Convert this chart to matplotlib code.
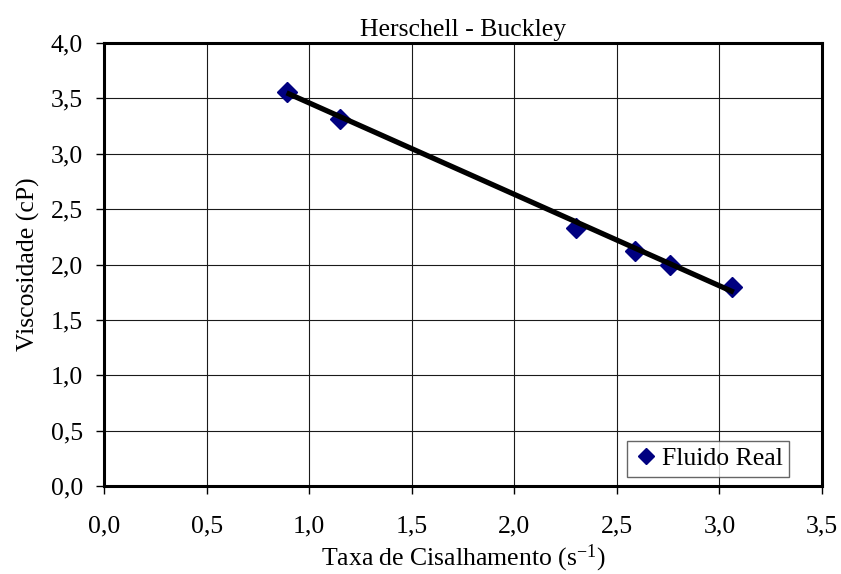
import numpy as np
import matplotlib.pyplot as plt
from matplotlib.ticker import FuncFormatter, MultipleLocator

# -----------------------------
# Data
# -----------------------------
taxa = [0.89, 1.15, 2.30, 2.59, 2.76, 3.06]
viscosidade = [3.56, 3.31, 2.33, 2.12, 2.00, 1.80]

# model line (Herschell - Buckley fit)
modelo_x = [0.89, 3.07]
modelo_y = [3.55, 1.75]

plt.rcParams['font.family'] = ['Liberation Serif', 'DejaVu Serif']
plt.rcParams['mathtext.fontset'] = 'custom'
plt.rcParams['mathtext.rm'] = 'Liberation Serif'
plt.rcParams['mathtext.default'] = 'regular'

FS = 18.5

fig = plt.figure(figsize=(8.41, 5.74), dpi=100)
# plot area: x 104..822 px, y 43..486 px
ax = fig.add_axes([104 / 841, 1 - 486 / 574, 718 / 841, 443 / 574])

ax.plot(modelo_x, modelo_y, color='black', lw=3.8, zorder=3,
        solid_capstyle='butt')
ax.plot(taxa, viscosidade, ls='none', marker='D', ms=10, color='#000080',
        zorder=2, label='Fluido Real')

ax.set_xlim(0, 3.5)
ax.set_ylim(0, 4.0)
ax.xaxis.set_major_locator(MultipleLocator(0.5))
ax.yaxis.set_major_locator(MultipleLocator(0.5))
fmt = FuncFormatter(lambda v, p: f"{v:.1f}".replace('.', ','))
ax.xaxis.set_major_formatter(fmt)
ax.yaxis.set_major_formatter(fmt)

ax.grid(True, color='#1a1a1a', lw=0.8)
ax.set_axisbelow(True)
for s in ax.spines.values():
    s.set_linewidth(2.2)
ax.tick_params(axis='x', direction='out', length=6, width=1, labelsize=FS, pad=15)
ax.tick_params(axis='y', direction='out', length=6, width=1, labelsize=FS, pad=9)

ax.set_title('Herschell - Buckley', fontsize=FS, pad=5)
ax.set_xlabel('Taxa de Cisalhamento (s$^{-1}$)', fontsize=FS, labelpad=4)
ax.set_ylabel('Viscosidade (cP)', fontsize=FS, labelpad=8)

leg = ax.legend(loc='upper right', bbox_to_anchor=((789 - 104) / 718, (486 - 441) / 443),
                borderaxespad=0, fontsize=FS, frameon=True, fancybox=False,
                handletextpad=0.1, handlelength=1.0, borderpad=0.25,
                markerscale=0.85)
leg.get_frame().set_edgecolor('#404040')
leg.get_frame().set_linewidth(1.0)

fig.savefig('out.png', dpi=100)
